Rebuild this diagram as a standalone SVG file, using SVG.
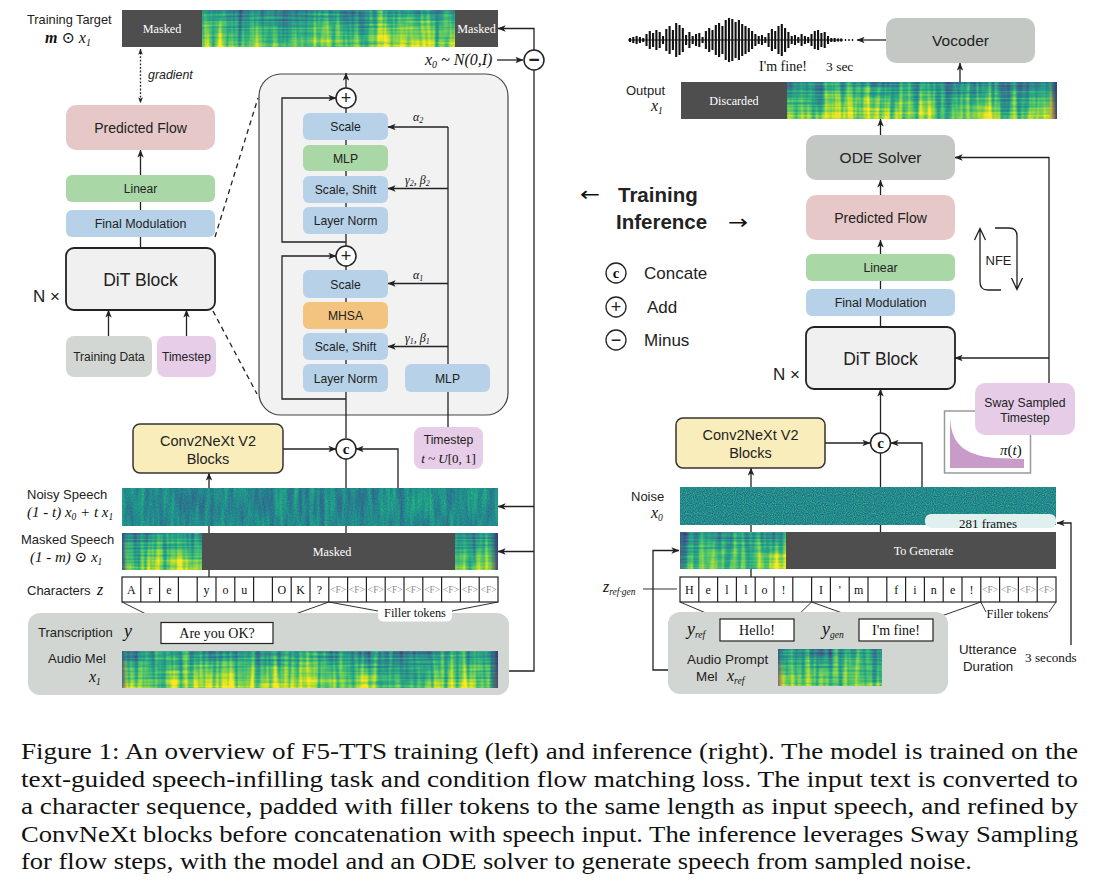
<svg xmlns="http://www.w3.org/2000/svg" width="1104" height="885" viewBox="0 0 1104 885">
<style>
.sans{font-family:"Liberation Sans",Arial,"DejaVu Sans",sans-serif;fill:#222}
.serif{font-family:"Liberation Serif","Times New Roman","DejaVu Serif",serif;fill:#111}
.it{font-style:italic}
.c{text-anchor:middle}
.ln{fill:none;stroke:#222;stroke-width:1.3}
.thin{fill:none;stroke:#333;stroke-width:1}
.arr{marker-end:url(#ah)}
.blue{fill:#b7d2e8}
.green{fill:#a9d7a5}
.orange{fill:#f2c47f}
.pink{fill:#e7c8c8}
.gray{fill:#c4c8c4}
.purp{fill:#e7cde7}
.yel{fill:#f9eebb;stroke:#333;stroke-width:1.5}
.dit{fill:#f0f0f0;stroke:#222;stroke-width:1.8}
.cell{fill:#fff;stroke:#222;stroke-width:1.2}
.wt{fill:#fff;font-family:"Liberation Serif","Times New Roman",serif;font-size:12.2px;text-anchor:middle}
.dark{fill:#4e4e4e}
.circ{fill:#fff;stroke:#222;stroke-width:1.5}
.ch{font-family:"Liberation Serif","Times New Roman",serif;font-size:12px;text-anchor:middle;fill:#111}
.ff{font-family:"Liberation Serif","Times New Roman",serif;font-size:9.5px;text-anchor:middle;fill:#8a8a8a}
.cap{font-family:"Liberation Serif","Times New Roman",serif;font-size:22.5px;fill:#111}
.mel{fill:url(#melG);filter:url(#fMel)}
</style>
<defs>
<marker id="ah" viewBox="0 0 10 8" refX="9.5" refY="4" markerWidth="8" markerHeight="6.4" markerUnits="userSpaceOnUse" orient="auto-start-reverse">
<path d="M0,0 L10,4 L0,8 L2.5,4 z" fill="#222"/>
</marker>
<marker id="ahs" viewBox="0 0 10 8" refX="9.5" refY="4" markerWidth="6" markerHeight="4.8" markerUnits="userSpaceOnUse" orient="auto-start-reverse">
<path d="M0,0 L10,4 L0,8 L2.5,4 z" fill="#222"/>
</marker>
<linearGradient id="melG" x1="0" y1="0" x2="0" y2="1">
<stop offset="0" stop-color="#595959"/>
<stop offset="0.45" stop-color="#8c8c8c"/>
<stop offset="1" stop-color="#b8b8b8"/>
</linearGradient>
<filter id="fMel" x="0" y="0" width="1" height="1" color-interpolation-filters="sRGB">
<feTurbulence type="fractalNoise" baseFrequency="0.18 0.015" numOctaves="2" seed="4" result="a"/>
<feColorMatrix in="a" type="matrix" values="1 0 0 0 0 1 0 0 0 0 1 0 0 0 0 0 0 0 0 1" result="a2"/>
<feTurbulence type="fractalNoise" baseFrequency="0.03 0.008" numOctaves="2" seed="13" result="g"/>
<feColorMatrix in="g" type="matrix" values="1 0 0 0 0 1 0 0 0 0 1 0 0 0 0 0 0 0 0 1" result="g2"/>
<feTurbulence type="fractalNoise" baseFrequency="0.02 0.4" numOctaves="1" seed="9" result="b"/>
<feColorMatrix in="b" type="matrix" values="1 0 0 0 0 1 0 0 0 0 1 0 0 0 0 0 0 0 0 1" result="b2"/>
<feComposite in="a2" in2="g2" operator="arithmetic" k2="0.6" k3="0.4" result="ag"/>
<feComposite in="ag" in2="b2" operator="arithmetic" k2="0.75" k3="0.25" result="n"/>
<feComposite in="n" in2="SourceGraphic" operator="arithmetic" k2="0.6" k3="0.4" result="m"/>
<feColorMatrix in="m" type="matrix" values="2.6 0 0 0 -0.69 2.6 0 0 0 -0.69 2.6 0 0 0 -0.69 0 0 0 0 1"/>
<feComponentTransfer>
<feFuncR type="table" tableValues="0.267 0.283 0.254 0.207 0.164 0.128 0.135 0.267 0.478 0.741 0.993"/>
<feFuncG type="table" tableValues="0.005 0.141 0.265 0.372 0.471 0.567 0.659 0.749 0.821 0.873 0.906"/>
<feFuncB type="table" tableValues="0.329 0.458 0.530 0.553 0.558 0.551 0.518 0.441 0.318 0.150 0.144"/>
</feComponentTransfer>
</filter>
<filter id="fNoisy" x="0" y="0" width="1" height="1" color-interpolation-filters="sRGB">
<feTurbulence type="fractalNoise" baseFrequency="0.2 0.025" numOctaves="2" seed="11" result="a"/>
<feColorMatrix in="a" type="matrix" values="1 0 0 0 0 1 0 0 0 0 1 0 0 0 0 0 0 0 0 1" result="a2"/>
<feTurbulence type="fractalNoise" baseFrequency="0.7" numOctaves="1" seed="5" result="b"/>
<feColorMatrix in="b" type="matrix" values="1 0 0 0 0 1 0 0 0 0 1 0 0 0 0 0 0 0 0 1" result="b2"/>
<feComposite in="a2" in2="b2" operator="arithmetic" k2="0.6" k3="0.4" result="c"/>
<feColorMatrix in="c" type="matrix" values="0.72 0 0 0 0.115 0.72 0 0 0 0.115 0.72 0 0 0 0.115 0 0 0 0 1"/>
<feComponentTransfer>
<feFuncR type="table" tableValues="0.267 0.283 0.254 0.207 0.164 0.128 0.135 0.267 0.478 0.741 0.993"/>
<feFuncG type="table" tableValues="0.005 0.141 0.265 0.372 0.471 0.567 0.659 0.749 0.821 0.873 0.906"/>
<feFuncB type="table" tableValues="0.329 0.458 0.530 0.553 0.558 0.551 0.518 0.441 0.318 0.150 0.144"/>
</feComponentTransfer>
</filter>
<filter id="fNoise" x="0" y="0" width="1" height="1" color-interpolation-filters="sRGB">
<feTurbulence type="fractalNoise" baseFrequency="0.9" numOctaves="1" seed="21" result="a"/>
<feColorMatrix in="a" type="matrix" values="0.75 0 0 0 0.1 0.75 0 0 0 0.1 0.75 0 0 0 0.1 0 0 0 0 1"/>
<feComponentTransfer>
<feFuncR type="table" tableValues="0.267 0.283 0.254 0.207 0.164 0.128 0.135 0.267 0.478 0.741 0.993"/>
<feFuncG type="table" tableValues="0.005 0.141 0.265 0.372 0.471 0.567 0.659 0.749 0.821 0.873 0.906"/>
<feFuncB type="table" tableValues="0.329 0.458 0.530 0.553 0.558 0.551 0.518 0.441 0.318 0.150 0.144"/>
</feComponentTransfer>
</filter>
<linearGradient id="endR" x1="0" y1="0" x2="1" y2="0">
<stop offset="0" stop-color="#3b2a78" stop-opacity="0"/>
<stop offset="1" stop-color="#3b2a78" stop-opacity="0.85"/>
</linearGradient>
<linearGradient id="endL" x1="0" y1="0" x2="1" y2="0">
<stop offset="0" stop-color="#3b3a88" stop-opacity="0.7"/>
<stop offset="1" stop-color="#3b3a88" stop-opacity="0"/>
</linearGradient>
<pattern id="harm" patternUnits="userSpaceOnUse" width="6" height="3.5">
<rect x="0" y="0" width="6" height="1" fill="#f0f060" fill-opacity="0.3"/>
</pattern>
</defs>
<rect x="0" y="0" width="1104" height="885" fill="#fff"/>

<!-- DiT detail container -->
<g id="n-dit-detail-box">
<rect x="259" y="74" width="249" height="341" rx="22" fill="#f2f2f2" stroke="#444" stroke-width="1.2"/>
</g>

<!-- connectors -->
<g id="connectors">
<path d="M140.5 49V103" class="ln" stroke-dasharray="1.8 1.8" marker-start="url(#ahs)" marker-end="url(#ahs)"/>
<path d="M140.5 175V150" class="ln arr"/>
<path d="M140.5 210V202M140.5 248V237" class="ln"/>
<path d="M108.5 336V310" class="ln arr"/>
<path d="M186.5 336V310" class="ln arr"/>
<path d="M215 237L258 98M213 311L257 394" class="ln" stroke-dasharray="5 4"/>
<path d="M497 60H523" class="ln arr"/>
<path d="M534 50V28.5H498" class="ln arr"/>
<path d="M534 70V671H498" class="ln"/>
<path d="M534 506.5H498" class="ln arr"/>
<path d="M534 551.5H498" class="ln arr"/>
<path d="M346 438V266M346 246V108" class="ln"/>
<path d="M346 88V73" class="ln arr"/>
<path d="M346 242H282V98H336" class="ln arr"/>
<path d="M346 399H282V256H336" class="ln arr"/>
<path d="M448 427V127" class="ln"/>
<path d="M448 127H388" class="ln arr"/>
<path d="M448 188.5H388" class="ln arr"/>
<path d="M448 283.5H388" class="ln arr"/>
<path d="M448 346.5H388" class="ln arr"/>
<path d="M283 449H336" class="ln arr"/>
<path d="M398 488V449H356" class="ln arr"/>
<path d="M346 533V459" class="ln"/>
<path d="M209 577V473" class="ln arr"/>
<path d="M122 602L162 622M328.8 602L273 622M328.8 602L378 611M452 611L498 602" class="thin"/>
<path d="M886 40H857" class="ln arr"/>
<path d="M960 82V63" class="ln arr"/>
<path d="M880.5 135V119" class="ln arr"/>
<path d="M880.5 195V180" class="ln arr"/>
<path d="M880.5 254V240" class="ln arr"/>
<path d="M880.5 289V281M880.5 327V316" class="ln"/>
<path d="M880.5 433V389" class="ln arr"/>
<path d="M1049 383V157.5H955" class="ln arr"/>
<path d="M1049 358H955" class="ln arr"/>
<path d="M825 443H870" class="ln arr"/>
<path d="M922 487V443H891" class="ln arr"/>
<path d="M880.5 532V453" class="ln"/>
<path d="M751 577V468" class="ln arr"/>
<path d="M643 589H677" class="thin"/>
<path d="M681 670H653V550.5H679" class="ln arr"/>
<path d="M1071 645V523H1057" class="ln arr"/>
<path d="M680 602L720 619M811.6 602L794 619M811.6 602L859 619M980.8 602L933 619M980.8 602L986 612M1056 602L1049 612" class="thin"/>
<path d="M1001 290H988Q980 290 980 282V229M974.5 240L980 228.5L985.5 240" class="ln" stroke-width="1.6"/>
<path d="M995 228H1009Q1017 228 1017 236V289M1011.5 278L1017 289.5L1022.5 278" class="ln" stroke-width="1.6"/>
</g>

<!-- LEFT: training -->
<g id="n-training-target">
<text x="27" y="23.5" class="sans" font-size="12.8">Training Target</text>
<text x="45" y="43" class="serif" font-size="16"><tspan font-style="italic" font-weight="bold">m</tspan> ⊙ <tspan font-style="italic">x</tspan><tspan font-style="italic" font-size="10" dy="3">1</tspan></text>
<rect x="122" y="10" width="376" height="37" class="mel"/>
<rect x="122" y="10" width="376" height="37" fill="url(#harm)" opacity="0.5"/>
<rect x="122" y="10" width="80" height="37" class="dark"/>
<rect x="455" y="10" width="43" height="37" class="dark"/>
<text x="162" y="32.5" class="wt">Masked</text>
<text x="476.5" y="32.5" class="wt">Masked</text>
</g>
<g id="n-minus">
<circle cx="534" cy="60" r="10" class="circ"/>
<text x="534" y="66" class="sans c" font-size="19" font-weight="bold">−</text>
<text x="425" y="65" class="serif it" font-size="16">x<tspan font-size="10" dy="3">0</tspan><tspan dy="-3"> ~ N(0,I)</tspan></text>
</g>
<text x="148" y="78.5" class="sans it" font-size="12.4">gradient</text>
<g id="n-pred-flow-l">
<rect x="66" y="105" width="149" height="45" rx="10" class="pink"/>
<text x="140.5" y="132.5" class="sans c" font-size="14">Predicted Flow</text>
</g>
<g id="n-linear-l">
<rect x="66" y="175" width="149" height="27" rx="6" class="green"/>
<text x="140.5" y="193" class="sans c" font-size="12">Linear</text>
</g>
<g id="n-finalmod-l">
<rect x="66" y="210" width="149" height="27" rx="6" class="blue"/>
<text x="140.5" y="228" class="sans c" font-size="12.5">Final Modulation</text>
</g>
<g id="n-dit-l">
<rect x="66" y="248" width="149" height="62" rx="8" class="dit"/>
<text x="140.5" y="285.5" class="sans c" font-size="17.5">DiT Block</text>
<text x="33" y="302" class="sans" font-size="17">N ×</text>
</g>
<g id="n-training-data">
<rect x="66" y="336" width="86" height="41" rx="8" fill="#d3d7d3"/>
<text x="109" y="361" class="sans c" font-size="12">Training Data</text>
</g>
<g id="n-timestep-l">
<rect x="157" y="336" width="59" height="41" rx="8" class="purp"/>
<text x="186.5" y="361" class="sans c" font-size="12">Timestep</text>
</g>

<g id="n-plus-top">
<circle cx="346" cy="98" r="10" class="circ"/>
<text x="346" y="104" class="sans c" font-size="18">+</text>
</g>
<g id="n-scale2"><rect x="303" y="113" width="85" height="27" rx="6" class="blue"/><text x="345.5" y="131" class="sans c" font-size="12.2">Scale</text></g>
<g id="n-mlp2"><rect x="303" y="145" width="85" height="26" rx="6" class="green"/><text x="345.5" y="162.5" class="sans c" font-size="12.2">MLP</text></g>
<g id="n-scaleshift2"><rect x="303" y="176" width="85" height="27" rx="6" class="blue"/><text x="345.5" y="194" class="sans c" font-size="12.2">Scale, Shift</text></g>
<g id="n-ln2"><rect x="303" y="207" width="85" height="27" rx="6" class="blue"/><text x="345.5" y="225" class="sans c" font-size="12.2">Layer Norm</text></g>
<g id="n-plus-mid">
<circle cx="346" cy="256" r="10" class="circ"/>
<text x="346" y="262" class="sans c" font-size="18">+</text>
</g>
<g id="n-scale1"><rect x="303" y="270" width="85" height="28" rx="6" class="blue"/><text x="345.5" y="288.5" class="sans c" font-size="12.2">Scale</text></g>
<g id="n-mhsa"><rect x="303" y="302" width="85" height="27" rx="6" class="orange"/><text x="345.5" y="320" class="sans c" font-size="12.2">MHSA</text></g>
<g id="n-scaleshift1"><rect x="303" y="333" width="85" height="27" rx="6" class="blue"/><text x="345.5" y="351" class="sans c" font-size="12.2">Scale, Shift</text></g>
<g id="n-ln1"><rect x="303" y="364" width="85" height="28" rx="6" class="blue"/><text x="345.5" y="382.5" class="sans c" font-size="12.2">Layer Norm</text></g>
<g id="n-mlp-t"><rect x="405" y="364" width="85" height="28" rx="6" class="blue"/><text x="447.5" y="382.5" class="sans c" font-size="12.2">MLP</text></g>
<g id="labels-mod" class="serif it" font-size="12">
<text x="413" y="121">α<tspan font-size="8" dy="2">2</tspan></text>
<text x="405" y="184">γ<tspan font-size="8" dy="2">2</tspan><tspan dy="-2">, β</tspan><tspan font-size="8" dy="2">2</tspan></text>
<text x="413" y="279">α<tspan font-size="8" dy="2">1</tspan></text>
<text x="405" y="342">γ<tspan font-size="8" dy="2">1</tspan><tspan dy="-2">, β</tspan><tspan font-size="8" dy="2">1</tspan></text>
</g>

<g id="n-conv-l">
<rect x="133" y="424" width="150" height="49" rx="7" class="yel"/>
<text x="208" y="445.5" class="sans c" font-size="14.5">Conv2NeXt V2</text>
<text x="208" y="464" class="sans c" font-size="14.5">Blocks</text>
</g>
<g id="n-concat-l">
<circle cx="346" cy="449" r="10" class="circ"/>
<text x="346" y="453.5" class="serif c" font-size="15" font-weight="bold">c</text>
</g>
<g id="n-timestep-t">
<rect x="414" y="427" width="69" height="42" rx="8" class="purp"/>
<text x="448.5" y="444" class="sans c" font-size="12.2">Timestep</text>
<text x="448.5" y="463" class="serif it c" font-size="13">t ~ U<tspan font-style="normal">[0, 1]</tspan></text>
</g>

<g id="n-noisy">
<text x="27" y="499" class="sans" font-size="13">Noisy Speech</text>
<text x="27" y="517" class="serif it" font-size="15">(1 - t) x<tspan font-size="9.5" dy="3">0</tspan><tspan dy="-3"> + t x</tspan><tspan font-size="9.5" dy="3">1</tspan></text>
<rect x="122" y="488" width="376" height="38" filter="url(#fNoisy)"/>
</g>
<g id="n-masked">
<text x="21" y="544" class="sans" font-size="13">Masked Speech</text>
<text x="30" y="562" class="serif it" font-size="15">(1 - m) <tspan font-style="normal">⊙</tspan> x<tspan font-size="9.5" dy="3">1</tspan></text>
<rect x="122" y="533" width="376" height="37" class="mel"/>
<rect x="122" y="533" width="376" height="37" fill="url(#harm)" opacity="0.5"/>
<rect x="122" y="533" width="6" height="37" fill="url(#endL)"/>
<rect x="490" y="533" width="8" height="37" fill="url(#endR)"/>
<rect x="202" y="533" width="253" height="37" class="dark"/>
<text x="332" y="555.5" class="wt">Masked</text>
</g>
<g id="n-chars-l">
<text x="27" y="594.5" class="sans" font-size="13">Characters</text>
<text x="97" y="595" class="serif it" font-size="16">z</text>
<rect x="122" y="577" width="376" height="25" class="cell"/>
<path d="M140.8 577V602M159.6 577V602M178.4 577V602M197.2 577V602M216 577V602M234.8 577V602M253.6 577V602M272.4 577V602M291.2 577V602M310 577V602M328.8 577V602M347.6 577V602M366.4 577V602M385.2 577V602M404 577V602M422.8 577V602M441.6 577V602M460.4 577V602M479.2 577V602" stroke="#222" stroke-width="1.2"/>
<text x="131.4" y="594" class="ch">A</text>
<text x="150.2" y="594" class="ch">r</text>
<text x="169" y="594" class="ch">e</text>
<text x="206.6" y="594" class="ch">y</text>
<text x="225.4" y="594" class="ch">o</text>
<text x="244.2" y="594" class="ch">u</text>
<text x="281.8" y="594" class="ch">O</text>
<text x="300.6" y="594" class="ch">K</text>
<text x="319.4" y="594" class="ch">?</text>
<text x="338.2" y="593" class="ff">&lt;F&gt;</text>
<text x="357" y="593" class="ff">&lt;F&gt;</text>
<text x="375.8" y="593" class="ff">&lt;F&gt;</text>
<text x="394.6" y="593" class="ff">&lt;F&gt;</text>
<text x="413.4" y="593" class="ff">&lt;F&gt;</text>
<text x="432.2" y="593" class="ff">&lt;F&gt;</text>
<text x="451" y="593" class="ff">&lt;F&gt;</text>
<text x="469.8" y="593" class="ff">&lt;F&gt;</text>
<text x="488.6" y="593" class="ff">&lt;F&gt;</text>
</g>
<g id="n-input-l">
<rect x="28" y="613" width="481" height="82" rx="12" fill="#d2d6d2"/>
<text x="38" y="636.5" class="sans" font-size="13">Transcription</text>
<text x="124" y="637" class="serif it" font-size="18">y</text>
<rect x="161" y="622.5" width="112" height="21" fill="#fff" stroke="#222" stroke-width="1.2"/>
<text x="217" y="638" class="serif c" font-size="14">Are you OK?</text>
<text x="48" y="663" class="sans" font-size="13">Audio Mel</text>
<text x="89" y="682" class="serif it" font-size="16">x<tspan font-size="9.5" dy="3">1</tspan></text>
<rect x="122" y="651" width="376" height="37" class="mel"/>
<rect x="122" y="651" width="376" height="37" fill="url(#harm)" opacity="0.5"/>
<rect x="122" y="651" width="6" height="37" fill="url(#endL)"/>
<rect x="489" y="651" width="9" height="37" fill="url(#endR)"/>
</g>
<g id="n-filler-l">
<rect x="378" y="603.5" width="74" height="18" rx="5" fill="#fff"/>
<text x="415" y="617" class="serif c" font-size="12.3">Filler tokens</text>
</g>

<!-- RIGHT: inference -->
<g id="n-waveform">
<path d="M628 40H843" stroke="#111" stroke-width="1.2"/>
<path d="M630 38V42M633.3 37V43M636.6 36V44M639.9 37V43M643.2 38V42M646.5 34V46M649.8 31V49M653.1 33V47M656.4 30V50M659.7 32V48M663 36V44M666.3 29V51M669.6 26V54M672.9 30V50M676.2 23V57M679.5 25V55M682.8 28V52M686.1 35V45M689.4 32V48M692.7 36V44M696 34V46M699.3 33V47M702.6 37V43M705.9 31V49M709.2 28V52M712.5 30V50M715.8 25V55M719.1 23V57M722.4 26V54M725.7 20V60M729 18V62M732.3 19V61M735.6 22V58M738.9 20V60M742.2 24V56M745.5 26V54M748.8 28V52M752.1 31V49M755.4 34V46M758.7 36V44M762 35V45M765.3 37V43M768.6 33V47M771.9 29V51M775.2 31V49M778.5 26V54M781.8 24V56M785.1 28V52M788.4 32V48M791.7 36V44M795 35V45M798.3 37V43M801.6 34V46M804.9 36V44M808.2 37V43M811.5 34V46M814.8 31V49M818.1 30V50M821.4 33V47M824.7 32V48M828 36V44M831.3 38V42M834.6 38V42M837.9 38.5V41.5M841.2 38.5V41.5" stroke="#111" stroke-width="2.1" fill="none"/>
<circle cx="845.5" cy="40" r="0.9" fill="#111"/>
<circle cx="849" cy="40" r="0.9" fill="#111"/>
<circle cx="852.5" cy="40" r="0.9" fill="#111"/>
<text x="759" y="71" class="serif" font-size="14">I'm fine!</text>
<text x="826" y="71" class="serif" font-size="13.5">3 sec</text>
</g>
<g id="n-vocoder">
<rect x="886" y="18" width="149" height="45" rx="10" class="gray"/>
<text x="960.5" y="46" class="sans c" font-size="15.5">Vocoder</text>
</g>
<g id="n-output">
<text x="626" y="94.5" class="sans" font-size="13">Output</text>
<text x="651" y="111" class="serif it" font-size="16">x<tspan font-size="9.5" dy="3">1</tspan></text>
<rect x="681" y="82" width="376" height="37" class="mel"/>
<rect x="681" y="82" width="376" height="37" fill="url(#harm)" opacity="0.5"/>
<rect x="1048" y="82" width="9" height="37" fill="url(#endR)"/>
<rect x="681" y="82" width="106" height="37" class="dark"/>
<text x="734" y="104.5" class="wt">Discarded</text>
</g>
<g id="n-ode">
<rect x="806" y="135" width="149" height="45" rx="10" class="gray"/>
<text x="880.5" y="163" class="sans c" font-size="15.5">ODE Solver</text>
</g>
<g id="n-pred-flow-r">
<rect x="806" y="195" width="149" height="45" rx="10" class="pink"/>
<text x="880.5" y="222.5" class="sans c" font-size="14">Predicted Flow</text>
</g>
<g id="n-linear-r">
<rect x="806" y="254" width="149" height="27" rx="6" class="green"/>
<text x="880.5" y="272" class="sans c" font-size="12.3">Linear</text>
</g>
<g id="n-finalmod-r">
<rect x="806" y="289" width="149" height="27" rx="6" class="blue"/>
<text x="880.5" y="307" class="sans c" font-size="12.5">Final Modulation</text>
</g>
<g id="n-dit-r">
<rect x="806" y="327" width="149" height="62" rx="8" class="dit"/>
<text x="880.5" y="364.5" class="sans c" font-size="17.5">DiT Block</text>
<text x="773" y="380" class="sans" font-size="17">N ×</text>
</g>
<g id="n-nfe">
<text x="998.5" y="264.5" class="sans c" font-size="13">NFE</text>
</g>
<g id="n-train-infer">
<text x="580" y="201" font-family="DejaVu Sans,sans-serif" font-size="20" textLength="20" lengthAdjust="spacingAndGlyphs" fill="#111">←</text>
<text x="618" y="202" class="sans" font-size="20.5" font-weight="bold">Training</text>
<text x="616" y="229" class="sans" font-size="20.5" font-weight="bold">Inference</text>
<text x="728" y="229" font-family="DejaVu Sans,sans-serif" font-size="20" textLength="20" lengthAdjust="spacingAndGlyphs" fill="#111">→</text>
</g>
<g id="n-legend">
<circle cx="616" cy="273" r="10" fill="#fff" stroke="#222" stroke-width="1.3"/>
<text x="616" y="277.5" class="serif c" font-size="15" font-weight="bold">c</text>
<text x="644" y="279" class="sans" font-size="17">Concate</text>
<circle cx="616" cy="307" r="10" fill="#fff" stroke="#222" stroke-width="1.3"/>
<text x="616" y="313" class="sans c" font-size="18">+</text>
<text x="647" y="313" class="sans" font-size="17">Add</text>
<circle cx="616" cy="340" r="10" fill="#fff" stroke="#222" stroke-width="1.3"/>
<text x="616" y="346" class="sans c" font-size="18">−</text>
<text x="644" y="346" class="sans" font-size="17">Minus</text>
</g>
<g id="n-sway">
<rect x="944.5" y="411" width="86" height="62" fill="#fff" stroke="#999" stroke-width="1.5"/>
<path d="M950 417C951 442 962 455 995 458L1024 459V468H950Z" fill="#c89bc9"/>
<text x="1000" y="455" class="serif it" font-size="15">π<tspan font-style="normal">(</tspan>t<tspan font-style="normal">)</tspan></text>
<rect x="975" y="383" width="100" height="52" rx="10" fill="#e6cce6"/>
<text x="1025" y="406.5" class="sans c" font-size="12.2">Sway Sampled</text>
<text x="1025" y="421.5" class="sans c" font-size="12.2">Timestep</text>
</g>
<g id="n-conv-r">
<rect x="676" y="418" width="149" height="50" rx="7" class="yel"/>
<text x="750.5" y="440" class="sans c" font-size="14.5">Conv2NeXt V2</text>
<text x="750.5" y="458" class="sans c" font-size="14.5">Blocks</text>
</g>
<g id="n-concat-r">
<circle cx="880.5" cy="443" r="10" class="circ"/>
<text x="880.5" y="447.5" class="serif c" font-size="15" font-weight="bold">c</text>
</g>
<g id="n-noise">
<text x="631" y="500.5" class="sans" font-size="13">Noise</text>
<text x="651" y="518" class="serif it" font-size="16">x<tspan font-size="9.5" dy="3">0</tspan></text>
<rect x="680" y="487" width="376" height="38" filter="url(#fNoise)"/>
<rect x="925" y="514" width="131" height="14" rx="6" fill="#dff0ef"/>
<text x="988" y="527.5" class="serif c" font-size="13">281 frames</text>
</g>
<g id="n-togen">
<rect x="680" y="532" width="376" height="37" class="mel"/>
<rect x="680" y="532" width="376" height="37" fill="url(#harm)" opacity="0.5"/>
<rect x="680" y="532" width="6" height="37" fill="url(#endL)"/>
<rect x="786" y="532" width="270" height="37" class="dark"/>
<text x="923.5" y="555" class="wt">To Generate</text>
</g>
<g id="n-chars-r">
<text x="603" y="592" class="serif it" font-size="16">z<tspan font-size="9.5" dy="3">ref·gen</tspan></text>
<rect x="680" y="577" width="376" height="25" class="cell"/>
<path d="M698.8 577V602M717.6 577V602M736.4 577V602M755.2 577V602M774 577V602M792.8 577V602M811.6 577V602M830.4 577V602M849.2 577V602M868 577V602M886.8 577V602M905.6 577V602M924.4 577V602M943.2 577V602M962 577V602M980.8 577V602M999.6 577V602M1018.4 577V602M1037.2 577V602" stroke="#222" stroke-width="1.2"/>
<text x="689.4" y="594" class="ch">H</text>
<text x="708.2" y="594" class="ch">e</text>
<text x="727" y="594" class="ch">l</text>
<text x="745.8" y="594" class="ch">l</text>
<text x="764.6" y="594" class="ch">o</text>
<text x="783.4" y="594" class="ch">!</text>
<text x="821" y="594" class="ch">I</text>
<text x="839.8" y="594" class="ch">'</text>
<text x="858.6" y="594" class="ch">m</text>
<text x="896.2" y="594" class="ch">f</text>
<text x="915" y="594" class="ch">i</text>
<text x="933.8" y="594" class="ch">n</text>
<text x="952.6" y="594" class="ch">e</text>
<text x="971.4" y="594" class="ch">!</text>
<text x="990.2" y="593" class="ff">&lt;F&gt;</text>
<text x="1009" y="593" class="ff">&lt;F&gt;</text>
<text x="1027.8" y="593" class="ff">&lt;F&gt;</text>
<text x="1046.6" y="593" class="ff">&lt;F&gt;</text>
</g>
<g id="n-filler-r">
<text x="1017.5" y="617.5" class="serif c" font-size="12.3">Filler tokens</text>
</g>
<g id="n-input-r">
<rect x="668" y="612" width="280" height="82" rx="12" fill="#d2d6d2"/>
<text x="687" y="635" class="serif it" font-size="18">y<tspan font-size="9.5" dy="3">ref</tspan></text>
<text x="822" y="635" class="serif it" font-size="18">y<tspan font-size="9.5" dy="3">gen</tspan></text>
<rect x="720" y="619" width="74" height="22" fill="#fff" stroke="#222" stroke-width="1.2"/>
<text x="757" y="635" class="serif c" font-size="14">Hello!</text>
<rect x="859" y="619" width="74" height="22" fill="#fff" stroke="#222" stroke-width="1.2"/>
<text x="896" y="635" class="serif c" font-size="14">I'm fine!</text>
<text x="687" y="664" class="sans" font-size="13.4">Audio Prompt</text>
<text x="696" y="681" class="sans" font-size="13.4">Mel</text>
<text x="727" y="681" class="serif it" font-size="16">x<tspan font-size="9.5" dy="3">ref</tspan></text>
<rect x="778" y="649" width="104" height="37" class="mel"/>
<rect x="778" y="649" width="104" height="37" fill="url(#harm)" opacity="0.5"/>
<rect x="778" y="649" width="6" height="37" fill="url(#endL)"/>
</g>
<g id="n-duration">
<text x="959" y="653.5" class="sans" font-size="13.3">Utterance</text>
<text x="963" y="670.5" class="sans" font-size="13.3">Duration</text>
<text x="1025" y="662" class="serif" font-size="13.2">3 seconds</text>
</g>

<!-- caption -->
<g id="caption" class="cap">
<text x="21" y="759" textLength="1057" lengthAdjust="spacingAndGlyphs">Figure 1: An overview of F5-TTS training (left) and inference (right). The model is trained on the</text>
<text x="21" y="786.5" textLength="1057" lengthAdjust="spacingAndGlyphs">text-guided speech-infilling task and condition flow matching loss.  The input text is converted to</text>
<text x="21" y="814" textLength="1057" lengthAdjust="spacingAndGlyphs">a character sequence, padded with filler tokens to the same length as input speech, and refined by</text>
<text x="21" y="841.5" textLength="1057" lengthAdjust="spacingAndGlyphs">ConvNeXt blocks before concatenation with speech input. The inference leverages Sway Sampling</text>
<text x="21" y="869" textLength="951" lengthAdjust="spacingAndGlyphs">for flow steps, with the model and an ODE solver to generate speech from sampled noise.</text>
</g>
</svg>
